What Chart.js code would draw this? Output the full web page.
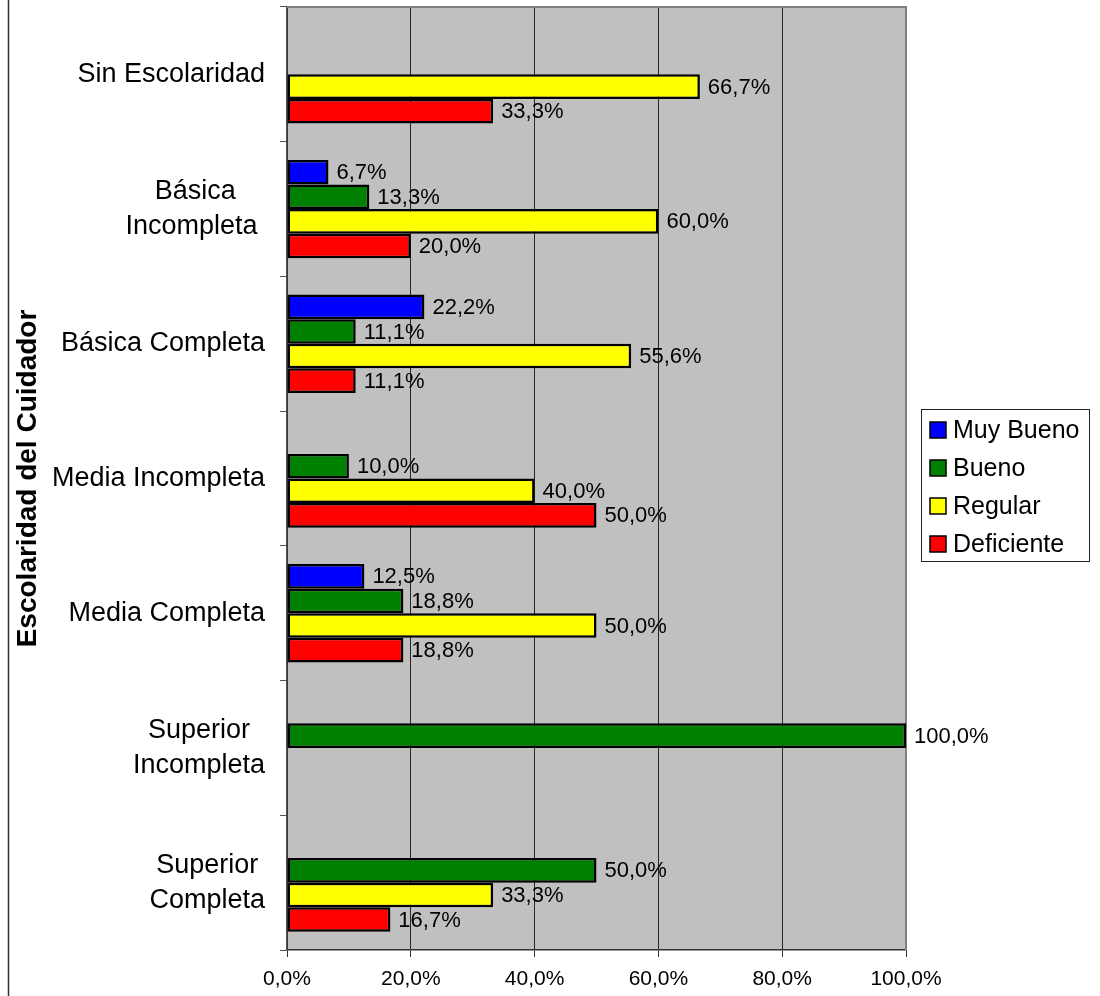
<!DOCTYPE html>
<html>
<head>
<meta charset="utf-8">
<script src="https://cdn.jsdelivr.net/npm/chart.js@4.4.1/dist/chart.umd.min.js"></script>
<style>
  html, body { margin: 0; padding: 0; background: #ffffff; }
  canvas { display: block; }
</style>
</head>
<body>
<canvas id="chart" width="1100" height="996"></canvas>
<script>
// Categories (multi-line labels, top to bottom)
const categories = [
  ['Sin Escolaridad'],
  ['Básica', 'Incompleta '],
  ['Básica Completa'],
  ['Media Incompleta'],
  ['Media Completa'],
  ['Superior', 'Incompleta'],
  ['Superior', 'Completa']
];

// Series names and values in percent (null = no bar)
const seriesNames = ['Muy Bueno', 'Bueno', 'Regular', 'Deficiente'];
const muyBueno   = [null,  6.7, 22.2, null, 12.5, null,  null];
const bueno      = [null, 13.3, 11.1, 10.0, 18.8, 100.0, 50.0];
const regular    = [66.7, 60.0, 55.6, 40.0, 50.0, null,  33.3];
const deficiente = [33.3, 20.0, 11.1, 50.0, 18.8, null,  16.7];

// Value-axis tick positions
const xTicks = [0, 20, 40, 60, 80, 100];

const seriesColors = ['#0000FF', '#008000', '#FFFF00', '#FF0000'];
const FONT = "'Liberation Sans', Arial, Helvetica, sans-serif";

function pct(v) {
  return v.toFixed(1).replace('.', ',') + '%';
}

const decor = {
  id: 'decor',
  beforeDraw(chart) {
    const { ctx, chartArea: a } = chart;
    ctx.save();
    ctx.fillStyle = '#ffffff';
    ctx.fillRect(0, 0, chart.width, chart.height);
    ctx.fillStyle = '#C0C0C0';
    ctx.fillRect(a.left, a.top, a.right - a.left, a.bottom - a.top);
    // outer frame edge on the left
    ctx.strokeStyle = '#303030';
    ctx.lineWidth = 1.5;
    ctx.beginPath();
    ctx.moveTo(8.5, 0);
    ctx.lineTo(8.5, chart.height);
    ctx.stroke();
    ctx.restore();
  },
  beforeDatasetsDraw(chart) {
    // plot-area frame (top and right edges)
    const { ctx, chartArea: a } = chart;
    ctx.save();
    ctx.strokeStyle = '#808080';
    ctx.lineWidth = 2;
    ctx.beginPath();
    ctx.moveTo(a.left, a.top);
    ctx.lineTo(a.right, a.top);
    ctx.lineTo(a.right, a.bottom);
    ctx.stroke();
    ctx.restore();
  },
  afterDatasetsDraw(chart) {
    // value labels to the right of each bar
    const { ctx } = chart;
    ctx.save();
    ctx.font = '22px ' + FONT;
    ctx.fillStyle = '#000000';
    ctx.textAlign = 'left';
    ctx.textBaseline = 'middle';
    chart.data.datasets.forEach((ds, di) => {
      const meta = chart.getDatasetMeta(di);
      meta.data.forEach((bar, i) => {
        const v = ds.data[i];
        if (v === null || v === undefined) return;
        ctx.fillText(pct(v), bar.x + 8, bar.y + 1);
      });
    });
    ctx.restore();
  },
  afterDraw(chart) {
    const { ctx, chartArea: a } = chart;
    const yScale = chart.scales.y;

    // category labels: block right-aligned, lines centred inside the block
    ctx.save();
    ctx.font = '27px ' + FONT;
    ctx.fillStyle = '#000000';
    ctx.textAlign = 'center';
    ctx.textBaseline = 'middle';
    const right = a.left - 22;
    const lh = 35;
    chart.data.labels.forEach((lines, i) => {
      const cy = yScale.getPixelForValue(i);
      const w = Math.max(...lines.map(t => ctx.measureText(t).width));
      const cx = right - w / 2;
      lines.forEach((t, j) => {
        ctx.fillText(t, cx, cy + (j - (lines.length - 1) / 2) * lh);
      });
    });
    ctx.restore();

    // legend box
    const lx = a.right + 15, ly = 409, lw = 168, lhBox = 152;
    ctx.save();
    ctx.fillStyle = '#ffffff';
    ctx.fillRect(lx, ly, lw, lhBox);
    ctx.strokeStyle = '#202020';
    ctx.lineWidth = 1;
    ctx.strokeRect(lx + 0.5, ly + 0.5, lw, lhBox);
    ctx.font = '25px ' + FONT;
    ctx.textAlign = 'left';
    ctx.textBaseline = 'middle';
    chart.data.datasets.forEach((ds, di) => {
      const cy = ly + 21 + di * 38;
      ctx.fillStyle = ds.backgroundColor;
      ctx.fillRect(lx + 9, cy - 8, 16, 16);
      ctx.strokeStyle = '#000000';
      ctx.lineWidth = 1.5;
      ctx.strokeRect(lx + 9, cy - 8, 16, 16);
      ctx.fillStyle = '#000000';
      ctx.fillText(ds.label, lx + 32, cy + 1);
    });
    ctx.restore();
  }
};

const seriesData = [muyBueno, bueno, regular, deficiente];

new Chart(document.getElementById('chart'), {
  type: 'bar',
  data: {
    labels: categories,
    datasets: seriesNames.map((name, i) => ({
      label: name,
      data: seriesData[i],
      backgroundColor: seriesColors[i],
      borderColor: '#000000',
      borderWidth: 2.5,
      borderSkipped: false,
      barPercentage: 1.0,
      categoryPercentage: 0.73
    }))
  },
  options: {
    indexAxis: 'y',
    responsive: false,
    animation: false,
    devicePixelRatio: 1,
    layout: { padding: { top: 7, right: 194, bottom: 0, left: 0 } },
    plugins: {
      legend: { display: false },
      tooltip: { enabled: false }
    },
    scales: {
      x: {
        type: 'linear',
        position: 'bottom',
        min: 0,
        max: 100,
        afterBuildTicks: s => { s.ticks = xTicks.map(v => ({ value: v })); },
        afterFit: s => { s.height = 46; },
        ticks: {
          color: '#000000',
          font: { family: FONT, size: 21 },
          padding: 10,
          maxRotation: 0,
          callback: v => pct(v)
        },
        grid: {
          color: c => (c.tick && c.tick.value === 100 ? '#808080' : '#262626'),
          lineWidth: 1,
          drawTicks: true,
          tickLength: 7,
          tickColor: '#303030'
        },
        border: { display: true, color: '#303030', width: 1.5 }
      },
      y: {
        type: 'category',
        position: 'left',
        offset: true,
        afterFit: s => { s.width = 287; },
        ticks: { display: false },
        grid: {
          offset: true,
          drawOnChartArea: false,
          drawTicks: true,
          tickLength: 7,
          color: '#505050',
          lineWidth: 1
        },
        border: { display: true, color: '#505050', width: 1.5 },
        title: {
          display: true,
          text: 'Escolaridad del Cuidador',
          color: '#000000',
          font: { family: FONT, size: 28, weight: 'bold' },
          padding: { top: 11, bottom: 0 }
        }
      }
    }
  },
  plugins: [decor]
});
</script>
</body>
</html>
